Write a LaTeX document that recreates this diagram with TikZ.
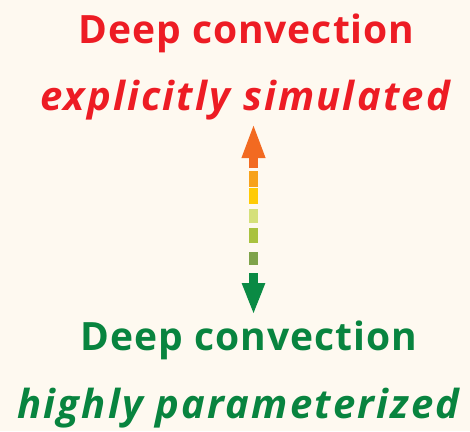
\documentclass[tikz,border=0pt]{standalone}
\usepackage{fontspec}
\setmainfont{Open Sans}
\usetikzlibrary{arrows.meta}
\definecolor{bgcream}{HTML}{FEF9F0}
\definecolor{hotred}{HTML}{ED1C24}
\definecolor{deepgreen}{HTML}{08843F}
\definecolor{tipor}{HTML}{F26A21}
\definecolor{dashA}{HTML}{F7A21B}
\definecolor{dashB}{HTML}{FFCB05}
\definecolor{dashC}{HTML}{D5E07A}
\definecolor{dashD}{HTML}{A9C23F}
\definecolor{dashE}{HTML}{7FA34A}
\definecolor{tipgr}{HTML}{0A8A44}
\begin{document}
\begin{tikzpicture}[x=1pt,y=-1pt,
  title/.style={anchor=base,inner sep=0pt,font=\fontsize{39}{39}\selectfont\bfseries\addfontfeature{LetterSpace=2.5}},
  subtitle/.style={anchor=base,inner sep=0pt,font=\fontsize{40}{40}\selectfont\bfseries\itshape\addfontfeature{LetterSpace=5.5}},
  seg/.style={line width=9pt}]
\fill[bgcream] (0,0) rectangle (470,431);
\useasboundingbox (0,0) rectangle (470,431);
% upper labels
\node[title,text=hotred] (topA) at (246.5,43) {Deep convection};
\node[subtitle,text=hotred] (topB) at (245,110) {explicitly simulated};
% lower labels
\node[title,text=deepgreen] (botA) at (249,350) {Deep convection};
\node[subtitle,text=deepgreen] (botB) at (238.5,418) {highly parameterized};
% arrow end points
\coordinate (upS) at (253.5,168);
\coordinate (upT) at (253.5,123);
\coordinate (dnS) at (253.5,273);
\coordinate (dnT) at (253.5,315);
% colour ramp shaft
\draw[seg,tipor,-{Triangle[width=21pt,length=35pt]}] (upS) -- (upT);
\draw[seg,tipgr,-{Triangle[width=21pt,length=32pt]}] (dnS) -- (dnT);
\fill[dashA] (249,171) rectangle (258,187);
\fill[dashB] (249,188) rectangle (258,204);
\fill[dashC] (249,209) rectangle (258,223);
\fill[dashD] (249,228) rectangle (258,243);
\fill[dashE] (249,252) rectangle (258,265);
\end{tikzpicture}
\end{document}
